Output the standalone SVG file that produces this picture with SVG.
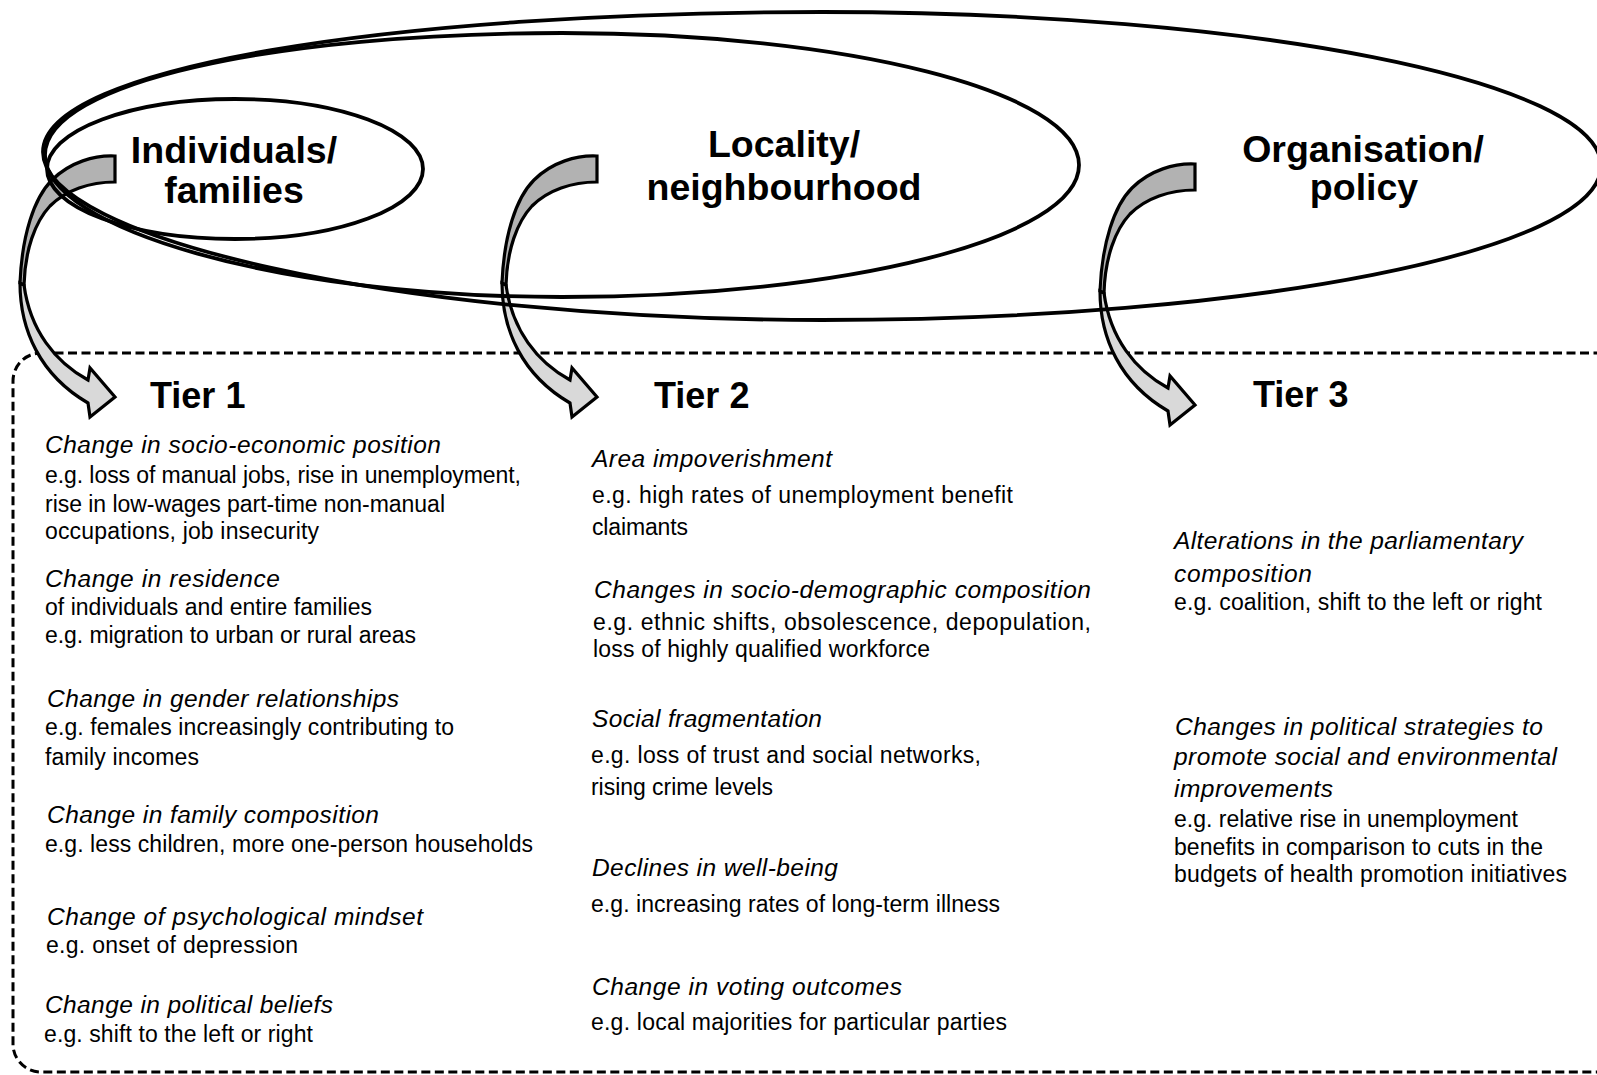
<svg xmlns="http://www.w3.org/2000/svg" width="1597" height="1075" viewBox="0 0 1597 1075">
<style>
  .ring { fill: none; stroke: #000; stroke-width: 3.8; }
  .box { fill: none; stroke: #000; stroke-width: 3; stroke-dasharray: 9 4.5; }
  .dark { fill: #b2b2b2; stroke: #000; stroke-width: 3.2; stroke-linejoin: miter; }
  .light { fill: #d9d9d9; stroke: #000; stroke-width: 3.2; stroke-linejoin: miter; }
  .head { font-family: "Liberation Sans", Arial, sans-serif; font-weight: bold; font-size: 37.5px; fill: #000; }
  .tier { font-family: "Liberation Sans", Arial, sans-serif; font-weight: bold; font-size: 36px; fill: #000; }
  .h { font-family: "Liberation Sans", Arial, sans-serif; font-style: italic; font-size: 24.5px; fill: #000; }
  .b { font-family: "Liberation Sans", Arial, sans-serif; font-size: 23px; fill: #000; }
</style>
<defs>
  <g id="curvedArrow">
    <path class="light" d="M20,283 C20,330 40,375 88,403 L90,417 L115,397 L90,368 L88,380 C55,362 30,330 24,285 Z"/>
    <path class="dark" d="M115,156 C95,155 70,162 52,180 C34,198 22,235 20,283 L24,285 C25,250 35,222 50,206 C66,190 90,182 115,182 Z"/>
  </g>
</defs>
<rect width="1597" height="1075" fill="#fff"/>

<g id="tiers-box">
  <rect class="box" x="13" y="353" width="1610" height="719" rx="28" ry="28"/>
</g>

<g id="connectors">
  <use href="#curvedArrow"/>
  <use href="#curvedArrow" transform="translate(482,0)"/>
  <use href="#curvedArrow" transform="translate(1080,8)"/>
</g>

<g id="organisation-policy">
  <path class="ring" d="M43,152 C43,67 392,12 822,12 C1252,12 1601,81 1601,166 C1601,251 1252,320 822,320 C392,320 43,237 43,152 Z"/>
  <text class="head" text-anchor="middle" x="1363" y="162">Organisation/</text>
  <text class="head" text-anchor="middle" x="1364" y="200">policy</text>
</g>

<g id="locality-neighbourhood">
  <path class="ring" d="M45,155 C45,82 277,33 562,33 C847,33 1079,92 1079,165 C1079,238 847,297 562,297 C277,297 45,228 45,155 Z"/>
  <text class="head" text-anchor="middle" x="784" y="157">Locality/</text>
  <text class="head" text-anchor="middle" x="784" y="200">neighbourhood</text>
</g>

<g id="individuals-families">
  <ellipse class="ring" cx="235" cy="169" rx="188" ry="70"/>
  <text class="head" text-anchor="middle" x="234" y="163">Individuals/</text>
  <text class="head" text-anchor="middle" x="234" y="203">families</text>
</g>

<g id="tier1">
  <text class="tier" x="150" y="408">Tier 1</text>
  <text class="h" x="45" y="453" textLength="396" lengthAdjust="spacing">Change in socio-economic position</text>
  <text class="b" x="45" y="483" textLength="476" lengthAdjust="spacing">e.g. loss of manual jobs, rise in unemployment,</text>
  <text class="b" x="45" y="512" textLength="400" lengthAdjust="spacing">rise in low-wages part-time non-manual</text>
  <text class="b" x="45" y="539" textLength="274" lengthAdjust="spacing">occupations, job insecurity</text>
  <text class="h" x="45" y="587" textLength="235" lengthAdjust="spacing">Change in residence</text>
  <text class="b" x="45" y="615" textLength="327" lengthAdjust="spacing">of individuals and entire families</text>
  <text class="b" x="45" y="643" textLength="371" lengthAdjust="spacing">e.g. migration to urban or rural areas</text>
  <text class="h" x="47" y="707" textLength="352" lengthAdjust="spacing">Change in gender relationships</text>
  <text class="b" x="45" y="735" textLength="409" lengthAdjust="spacing">e.g. females increasingly contributing to</text>
  <text class="b" x="45" y="765" textLength="154" lengthAdjust="spacing">family incomes</text>
  <text class="h" x="47" y="823" textLength="332" lengthAdjust="spacing">Change in family composition</text>
  <text class="b" x="45" y="852" textLength="488" lengthAdjust="spacing">e.g. less children, more one-person households</text>
  <text class="h" x="47" y="925" textLength="376" lengthAdjust="spacing">Change of psychological mindset</text>
  <text class="b" x="46" y="953" textLength="252" lengthAdjust="spacing">e.g. onset of depression</text>
  <text class="h" x="45" y="1013" textLength="288" lengthAdjust="spacing">Change in political beliefs</text>
  <text class="b" x="44" y="1042" textLength="269" lengthAdjust="spacing">e.g. shift to the left or right</text>
</g>

<g id="tier2">
  <text class="tier" x="654" y="408">Tier 2</text>
  <text class="h" x="592" y="467" textLength="240" lengthAdjust="spacing">Area impoverishment</text>
  <text class="b" x="592" y="503" textLength="421" lengthAdjust="spacing">e.g. high rates of unemployment benefit</text>
  <text class="b" x="592" y="535" textLength="96" lengthAdjust="spacing">claimants</text>
  <text class="h" x="594" y="598" textLength="497" lengthAdjust="spacing">Changes in socio-demographic composition</text>
  <text class="b" x="593" y="630" textLength="498" lengthAdjust="spacing">e.g. ethnic shifts, obsolescence, depopulation,</text>
  <text class="b" x="593" y="657" textLength="337" lengthAdjust="spacing">loss of highly qualified workforce</text>
  <text class="h" x="592" y="727" textLength="230" lengthAdjust="spacing">Social fragmentation</text>
  <text class="b" x="591" y="763" textLength="390" lengthAdjust="spacing">e.g. loss of trust and social networks,</text>
  <text class="b" x="591" y="795" textLength="182" lengthAdjust="spacing">rising crime levels</text>
  <text class="h" x="592" y="876" textLength="246" lengthAdjust="spacing">Declines in well-being</text>
  <text class="b" x="591" y="912" textLength="409" lengthAdjust="spacing">e.g. increasing rates of long-term illness</text>
  <text class="h" x="592" y="995" textLength="310" lengthAdjust="spacing">Change in voting outcomes</text>
  <text class="b" x="591" y="1030" textLength="416" lengthAdjust="spacing">e.g. local majorities for particular parties</text>
</g>

<g id="tier3">
  <text class="tier" x="1253" y="407">Tier 3</text>
  <text class="h" x="1174" y="549" textLength="349" lengthAdjust="spacing">Alterations in the parliamentary</text>
  <text class="h" x="1174" y="582" textLength="138" lengthAdjust="spacing">composition</text>
  <text class="b" x="1174" y="610" textLength="368" lengthAdjust="spacing">e.g. coalition, shift to the left or right</text>
  <text class="h" x="1175" y="735" textLength="368" lengthAdjust="spacing">Changes in political strategies to</text>
  <text class="h" x="1174" y="765" textLength="383" lengthAdjust="spacing">promote social and environmental</text>
  <text class="h" x="1174" y="797" textLength="159" lengthAdjust="spacing">improvements</text>
  <text class="b" x="1174" y="827" textLength="344" lengthAdjust="spacing">e.g. relative rise in unemployment</text>
  <text class="b" x="1174" y="855" textLength="369" lengthAdjust="spacing">benefits in comparison to cuts in the</text>
  <text class="b" x="1174" y="882" textLength="393" lengthAdjust="spacing">budgets of health promotion initiatives</text>
</g>
</svg>
